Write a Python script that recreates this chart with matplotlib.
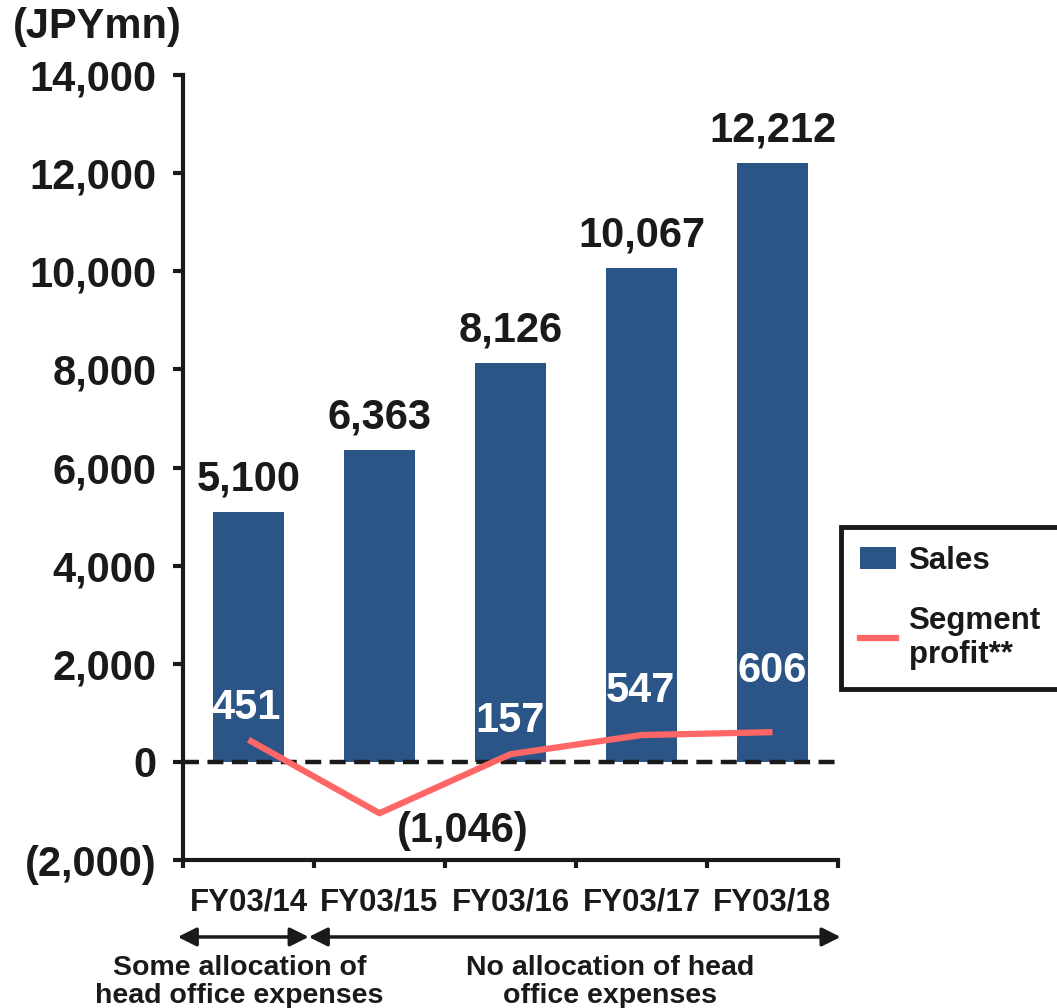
import matplotlib.pyplot as plt
from matplotlib.patches import Patch
from matplotlib.lines import Line2D

# data
years = ["FY03/14", "FY03/15", "FY03/16", "FY03/17", "FY03/18"]
sales = [5100, 6363, 8126, 10067, 12212]
profit = [451, -1046, 157, 547, 606]
sales_labels = ["5,100", "6,363", "8,126", "10,067", "12,212"]
profit_labels = ["451", "(1,046)", "157", "547", "606"]

BAR = "#2b5586"
LINE = "#ff6666"
INK = "#1a1a1a"

plt.rcParams['font.family'] = ['Liberation Sans', 'DejaVu Sans']
plt.rcParams['font.weight'] = 'bold'

fig = plt.figure(figsize=(10.57, 10.08), dpi=100)
ax = fig.add_axes([0.1731, 0.1468, 0.6197, 0.7788])

x = list(range(len(years)))
ax.bar(x, sales, width=0.54, color=BAR, zorder=2)
ax.plot(x, profit, color=LINE, lw=4.5, zorder=4, solid_capstyle='butt')
ax.axhline(0, color=INK, lw=3.2, ls=(0, (3.6, 1.9)), zorder=3)

# sales value labels
for xi, v, lab in zip(x, sales, sales_labels):
    ax.annotate(lab, (xi, v), xytext=(0, 9), textcoords='offset points',
                ha='center', va='bottom', fontsize=30, fontweight='bold', color=INK)

# profit labels (offsets tuned to reference)
offs = [(-2, 23), (60, -13), (0, 24), (-1, 32), (0, 44)]
cols = ['white', INK, 'white', 'white', 'white']
for xi, v, lab, o, c in zip(x, profit, profit_labels, offs, cols):
    ax.annotate(lab, (xi, v), xytext=o, textcoords='offset points',
                ha='center', va='center', fontsize=30, fontweight='bold', color=c, zorder=5)

ax.set_xlim(-0.5, 4.5)
ax.set_ylim(-2000, 14000)
ax.set_yticks(range(-2000, 14001, 2000))
ax.set_yticklabels(["(2,000)"] + [f"{v:,}" for v in range(0, 14001, 2000)])
ax.tick_params(axis='y', direction='out', length=7, width=3, labelsize=30, pad=12, colors=INK)

ax.set_xticks([i - 0.5 for i in range(6)])
ax.set_xticklabels([])
ax.set_xticks(x, minor=True)
ax.set_xticklabels(years, minor=True)
ax.tick_params(axis='x', which='major', direction='out', length=6, width=3, colors=INK)
ax.tick_params(axis='x', which='minor', length=0, labelsize=22.5, pad=20, colors=INK)

for s in ['top', 'right']:
    ax.spines[s].set_visible(False)
for s in ['left', 'bottom']:
    ax.spines[s].set_linewidth(3)
    ax.spines[s].set_color(INK)

ax.text(-0.131, 1.036, "(JPYmn)", transform=ax.transAxes, fontsize=30,
        fontweight='bold', ha='center', va='bottom', color=INK)

# arrows under the axis
ay = -0.098
ap = dict(arrowstyle='<|-|>', color=INK, lw=2.5, mutation_scale=28, shrinkA=0, shrinkB=0)
ax.annotate("", xy=(-0.54, ay), xytext=(0.46, ay), xycoords=('data', 'axes fraction'),
            textcoords=('data', 'axes fraction'), arrowprops=ap, annotation_clip=False)
ax.annotate("", xy=(0.46, ay), xytext=(4.52, ay), xycoords=('data', 'axes fraction'),
            textcoords=('data', 'axes fraction'), arrowprops=ap, annotation_clip=False)

ax.text(-0.07, -0.121, "Some allocation of\nhead office expenses", transform=ax.get_xaxis_transform(),
        ha='center', va='top', fontsize=20.5, fontweight='bold', linespacing=1.08, color=INK)
ax.text(2.76, -0.121, "No allocation of head\noffice expenses", transform=ax.get_xaxis_transform(),
        ha='center', va='top', fontsize=20.5, fontweight='bold', linespacing=1.08, color=INK)

handles = [Patch(facecolor=BAR), Line2D([], [], color=LINE, lw=4.5)]
leg = fig.legend(handles, ["Sales", "Segment\nprofit**"], loc='upper left',
                 bbox_to_anchor=(0.796, 0.477), fontsize=22.5, frameon=True, fancybox=False,
                 framealpha=1, handlelength=1.15, handleheight=0.7, borderpad=0.6,
                 labelspacing=0.95, handletextpad=0.4, borderaxespad=0)
leg.get_frame().set_edgecolor(INK)
leg.get_frame().set_linewidth(3.5)
for t in leg.get_texts():
    t.set_fontweight('bold')
    t.set_linespacing(1.2)
    t.set_color(INK)

fig.savefig("out.png", dpi=100)
